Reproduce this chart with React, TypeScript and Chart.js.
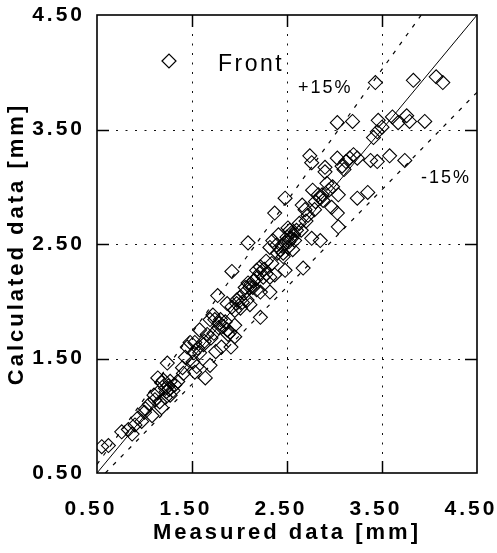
import React, { useEffect, useRef } from 'react';
import { Chart, registerables } from 'chart.js';

Chart.register(...registerables);

// ---- data ----
const AXIS_MIN = 0.5;
const AXIS_MAX = 4.5;
const TICKS = [0.5, 1.5, 2.5, 3.5, 4.5];
const BAND = 0.15;
const SERIES_LABEL = 'Front';
const UPPER_LABEL = '+15%';
const LOWER_LABEL = '-15%';
const X_TITLE = 'Measured data [mm]';
const Y_TITLE = 'Calculated data [mm]';

const MEASURED = [
  0.55, 0.62, 0.76, 0.83, 0.87, 0.93, 0.97, 1.01, 1.05, 1.08,
  1.11, 1.14, 1.16, 1.18, 1.14, 1.18, 1.22, 1.22, 1.24, 1.30,
  1.32, 1.27, 1.27, 1.25, 1.20, 1.41, 1.43, 1.45, 1.48, 1.53,
  1.51, 1.55, 1.53, 1.56, 1.62, 1.58, 1.64, 1.66, 1.70, 1.69,
  1.73, 1.58, 1.69, 1.74, 1.72, 1.79, 1.83, 1.87, 1.90, 1.88,
  1.95, 1.91, 1.81, 1.75, 1.77, 1.87, 1.95, 1.92, 1.97, 2.01,
  1.95, 2.08, 2.11, 2.09, 2.06, 2.11, 2.18, 2.22, 2.22, 2.32,
  2.18, 2.22, 2.25, 2.22, 2.34, 2.37, 2.32, 2.46, 2.56, 2.48,
  2.67, 2.46, 2.09, 2.51, 2.41, 2.53, 2.35, 2.39, 2.48, 2.32,
  2.43, 2.51, 2.53, 2.50, 2.55, 2.76, 2.85, 2.37, 2.48, 2.66,
  2.69, 2.72, 2.79, 2.97, 3.03, 3.04, 2.77, 2.87, 2.85, 2.88,
  3.04, 3.24, 3.35, 2.90, 2.92, 2.74, 2.76, 2.90, 3.03, 3.08,
  3.12, 3.16, 3.24, 3.38, 3.45, 3.58, 3.74, 3.41, 3.45, 3.03,
  3.19, 3.46, 3.50, 3.61, 3.67, 3.76, 3.79, 3.95, 3.43, 3.83,
  4.07, 4.14,
  2.12, 2.15, 2.14, 2.05, 2.00, 2.03, 1.80, 1.85, 1.78, 2.55,
  2.57, 2.52, 2.58, 2.45, 1.26, 1.23, 1.35, 1.40, 2.28, 2.83,
  2.80, 2.94, 2.60, 2.63, 2.28, 1.63, 1.52, 0.90, 1.10, 1.00,
  2.98, 2.70, 2.65, 2.40, 2.26, 2.18, 1.97, 1.92, 3.20, 3.10,
];

const CALCULATED = [
  0.73, 0.74, 0.86, 0.88, 0.84, 0.98, 0.95, 1.06, 1.10, 1.00,
  1.14, 1.20, 1.12, 1.07, 1.33, 1.29, 1.24, 1.16, 1.46, 1.22,
  1.27, 1.30, 1.18, 1.26, 1.31, 1.37, 1.51, 1.60, 1.64, 1.64,
  1.47, 1.43, 1.38, 1.59, 1.62, 1.55, 1.33, 1.71, 1.68, 1.44,
  1.72, 1.75, 1.84, 1.84, 1.88, 1.81, 1.78, 1.75, 1.73, 1.71,
  1.69, 1.60, 1.60, 1.56, 2.05, 1.98, 1.79, 2.26, 1.98, 1.94,
  1.92, 2.01, 1.97, 2.16, 2.12, 2.12, 2.10, 2.08, 1.86, 2.08,
  2.27, 2.25, 2.21, 2.30, 2.33, 2.23, 2.21, 2.39, 2.45, 2.27,
  2.29, 2.42, 2.51, 2.64, 2.58, 2.55, 2.53, 2.49, 2.51, 2.47,
  2.45, 2.47, 2.62, 2.56, 2.60, 2.55, 2.53, 2.77, 2.90, 2.84,
  2.80, 2.75, 2.80, 2.82, 2.77, 2.65, 2.97, 2.93, 2.90, 2.88,
  2.93, 2.90, 2.95, 3.13, 3.03, 3.27, 3.21, 3.17, 3.25, 3.18,
  3.22, 3.25, 3.25, 3.23, 3.22, 3.27, 3.23, 3.43, 3.48, 3.56,
  3.57, 3.58, 3.52, 3.61, 3.56, 3.62, 3.57, 3.57, 3.91, 3.93,
  3.96, 3.91,
  2.15, 2.18, 2.12, 2.07, 2.03, 1.99, 1.84, 1.82, 1.77, 2.55,
  2.58, 2.52, 2.53, 2.48, 1.23, 1.21, 1.30, 1.42, 2.24, 2.93,
  2.87, 2.97, 2.62, 2.68, 2.35, 1.65, 1.55, 0.92, 1.18, 1.03,
  3.00, 2.70, 2.62, 2.42, 2.28, 2.20, 2.01, 1.95, 3.28, 3.15,
];

// ---- helpers ----
const refLine = (f: number) => {
  const start = f >= 1 ? { x: AXIS_MIN, y: AXIS_MIN * f } : { x: AXIS_MIN / f, y: AXIS_MIN };
  const end = f >= 1 ? { x: AXIS_MAX / f, y: AXIS_MAX } : { x: AXIS_MAX, y: AXIS_MAX * f };
  return [start, end];
};

const FONT = '"Liberation Sans", Arial, Helvetica, sans-serif';

const framePlugin = {
  id: 'frame',
  beforeDraw(chart: any) {
    (chart.ctx as any).letterSpacing = '3px';
  },
  beforeDatasetsDraw(chart: any) {
    const { ctx, chartArea: a, scales } = chart;
    const xs = scales.x;
    const ys = scales.y;
    const inner = TICKS.filter((v) => v > AXIS_MIN && v < AXIS_MAX);
    ctx.save();
    ctx.strokeStyle = '#111';
    ctx.lineWidth = 1;
    ctx.setLineDash([2, 7.5]);
    const seg = (x1: number, y1: number, x2: number, y2: number) => {
      ctx.beginPath();
      ctx.moveTo(x1, y1);
      ctx.lineTo(x2, y2);
      ctx.stroke();
    };
    inner.forEach((v) => {
      const px = Math.round(xs.getPixelForValue(v)) + 0.5;
      seg(px, a.top, px, a.bottom);
      const py = Math.round(ys.getPixelForValue(v)) + 0.5;
      seg(a.left, py, a.right, py);
    });
    ctx.setLineDash([]);
    ctx.strokeStyle = '#000';
    ctx.lineWidth = 1.5;
    const tl = 12;
    inner.forEach((v) => {
      const px = Math.round(xs.getPixelForValue(v)) + 0.5;
      seg(px, a.bottom, px, a.bottom - tl);
      seg(px, a.top, px, a.top + tl);
      const py = Math.round(ys.getPixelForValue(v)) + 0.5;
      seg(a.left, py, a.left + tl, py);
      seg(a.right, py, a.right - tl, py);
    });
    ctx.lineWidth = 1.6;
    ctx.strokeRect(a.left, a.top, a.right - a.left, a.bottom - a.top);
    ctx.restore();
  },
  afterDraw(chart: any) {
    const ctx = chart.ctx;
    ctx.save();
    // legend
    const dx = 169;
    const dy = 61;
    const r = 7;
    ctx.strokeStyle = '#000';
    ctx.lineWidth = 1.2;
    ctx.beginPath();
    ctx.moveTo(dx - r, dy);
    ctx.lineTo(dx, dy - r);
    ctx.lineTo(dx + r, dy);
    ctx.lineTo(dx, dy + r);
    ctx.closePath();
    ctx.stroke();
    ctx.fillStyle = '#000';
    ctx.textAlign = 'left';
    ctx.textBaseline = 'alphabetic';
    (ctx as any).letterSpacing = '2.5px';
    ctx.font = `23px ${FONT}`;
    ctx.fillText(SERIES_LABEL, 218, 71);
    (ctx as any).letterSpacing = '2px';
    ctx.font = `18px ${FONT}`;
    ctx.fillText(UPPER_LABEL, 298, 93);
    ctx.fillText(LOWER_LABEL, 421, 183);
    ctx.restore();
  },
};

export default function App() {
  const ref = useRef<HTMLCanvasElement | null>(null);

  useEffect(() => {
    if (!ref.current) return;
    const points = MEASURED.map((m, i) => ({ x: m, y: CALCULATED[i] }));
    const tickFont = { family: FONT, size: 21, weight: 'bold' as const };
    const titleFont = { family: FONT, size: 22, weight: 'bold' as const };
    const chart = new Chart(ref.current, {
      type: 'scatter',
      data: {
        datasets: [
          {
            label: SERIES_LABEL,
            data: points,
            pointStyle: 'rectRot',
            pointRadius: 7,
            pointHoverRadius: 7,
            borderColor: '#000',
            backgroundColor: 'rgba(0,0,0,0)',
            borderWidth: 1.1,
            showLine: false,
          },
          {
            label: '1:1',
            data: refLine(1),
            showLine: true,
            borderColor: '#000',
            borderWidth: 1,
            pointRadius: 0,
          },
          {
            label: UPPER_LABEL,
            data: refLine(1 + BAND),
            showLine: true,
            borderColor: '#000',
            borderWidth: 1.2,
            borderDash: [4, 7],
            pointRadius: 0,
          },
          {
            label: LOWER_LABEL,
            data: refLine(1 - BAND),
            showLine: true,
            borderColor: '#000',
            borderWidth: 1.2,
            borderDash: [4, 7],
            pointRadius: 0,
          },
        ],
      },
      options: {
        animation: false,
        responsive: false,
        devicePixelRatio: 1,
        layout: { padding: { left: 0, right: 20, top: 15, bottom: 0 } },
        plugins: {
          legend: { display: false },
          tooltip: { enabled: false },
        },
        scales: {
          x: {
            type: 'linear',
            min: AXIS_MIN,
            max: AXIS_MAX,
            grid: { display: false },
            border: { display: false },
            afterBuildTicks: (s: any) => {
              s.ticks = TICKS.map((v) => ({ value: v }));
            },
            afterFit: (s: any) => {
              s.height = 80;
              s.paddingLeft = 0;
              s.paddingRight = 0;
            },
            ticks: {
              color: '#000',
              font: tickFont,
              padding: 16,
              labelOffset: -6,
              maxRotation: 0,
              autoSkip: false,
              callback: (v: any) => Number(v).toFixed(2),
            },
            title: {
              display: true,
              text: X_TITLE,
              color: '#000',
              font: titleFont,
              padding: { top: 0, bottom: 7 },
            },
          },
          y: {
            type: 'linear',
            min: AXIS_MIN,
            max: AXIS_MAX,
            grid: { display: false },
            border: { display: false },
            afterBuildTicks: (s: any) => {
              s.ticks = TICKS.map((v) => ({ value: v }));
            },
            afterFit: (s: any) => {
              s.width = 97;
              s.paddingTop = 0;
              s.paddingBottom = 0;
            },
            ticks: {
              color: '#000',
              font: tickFont,
              padding: 4,
              autoSkip: false,
              callback: (v: any) => Number(v).toFixed(2),
            },
            title: {
              display: true,
              text: Y_TITLE,
              color: '#000',
              font: titleFont,
              padding: { top: 4, bottom: 0 },
            },
          },
        },
      },
      plugins: [framePlugin],
    } as any);
    return () => chart.destroy();
  }, []);

  return (
    <div style={{ position: 'absolute', left: 0, top: 0, width: 497, height: 553, background: '#fff' }}>
      <canvas ref={ref} width={497} height={553} />
    </div>
  );
}
